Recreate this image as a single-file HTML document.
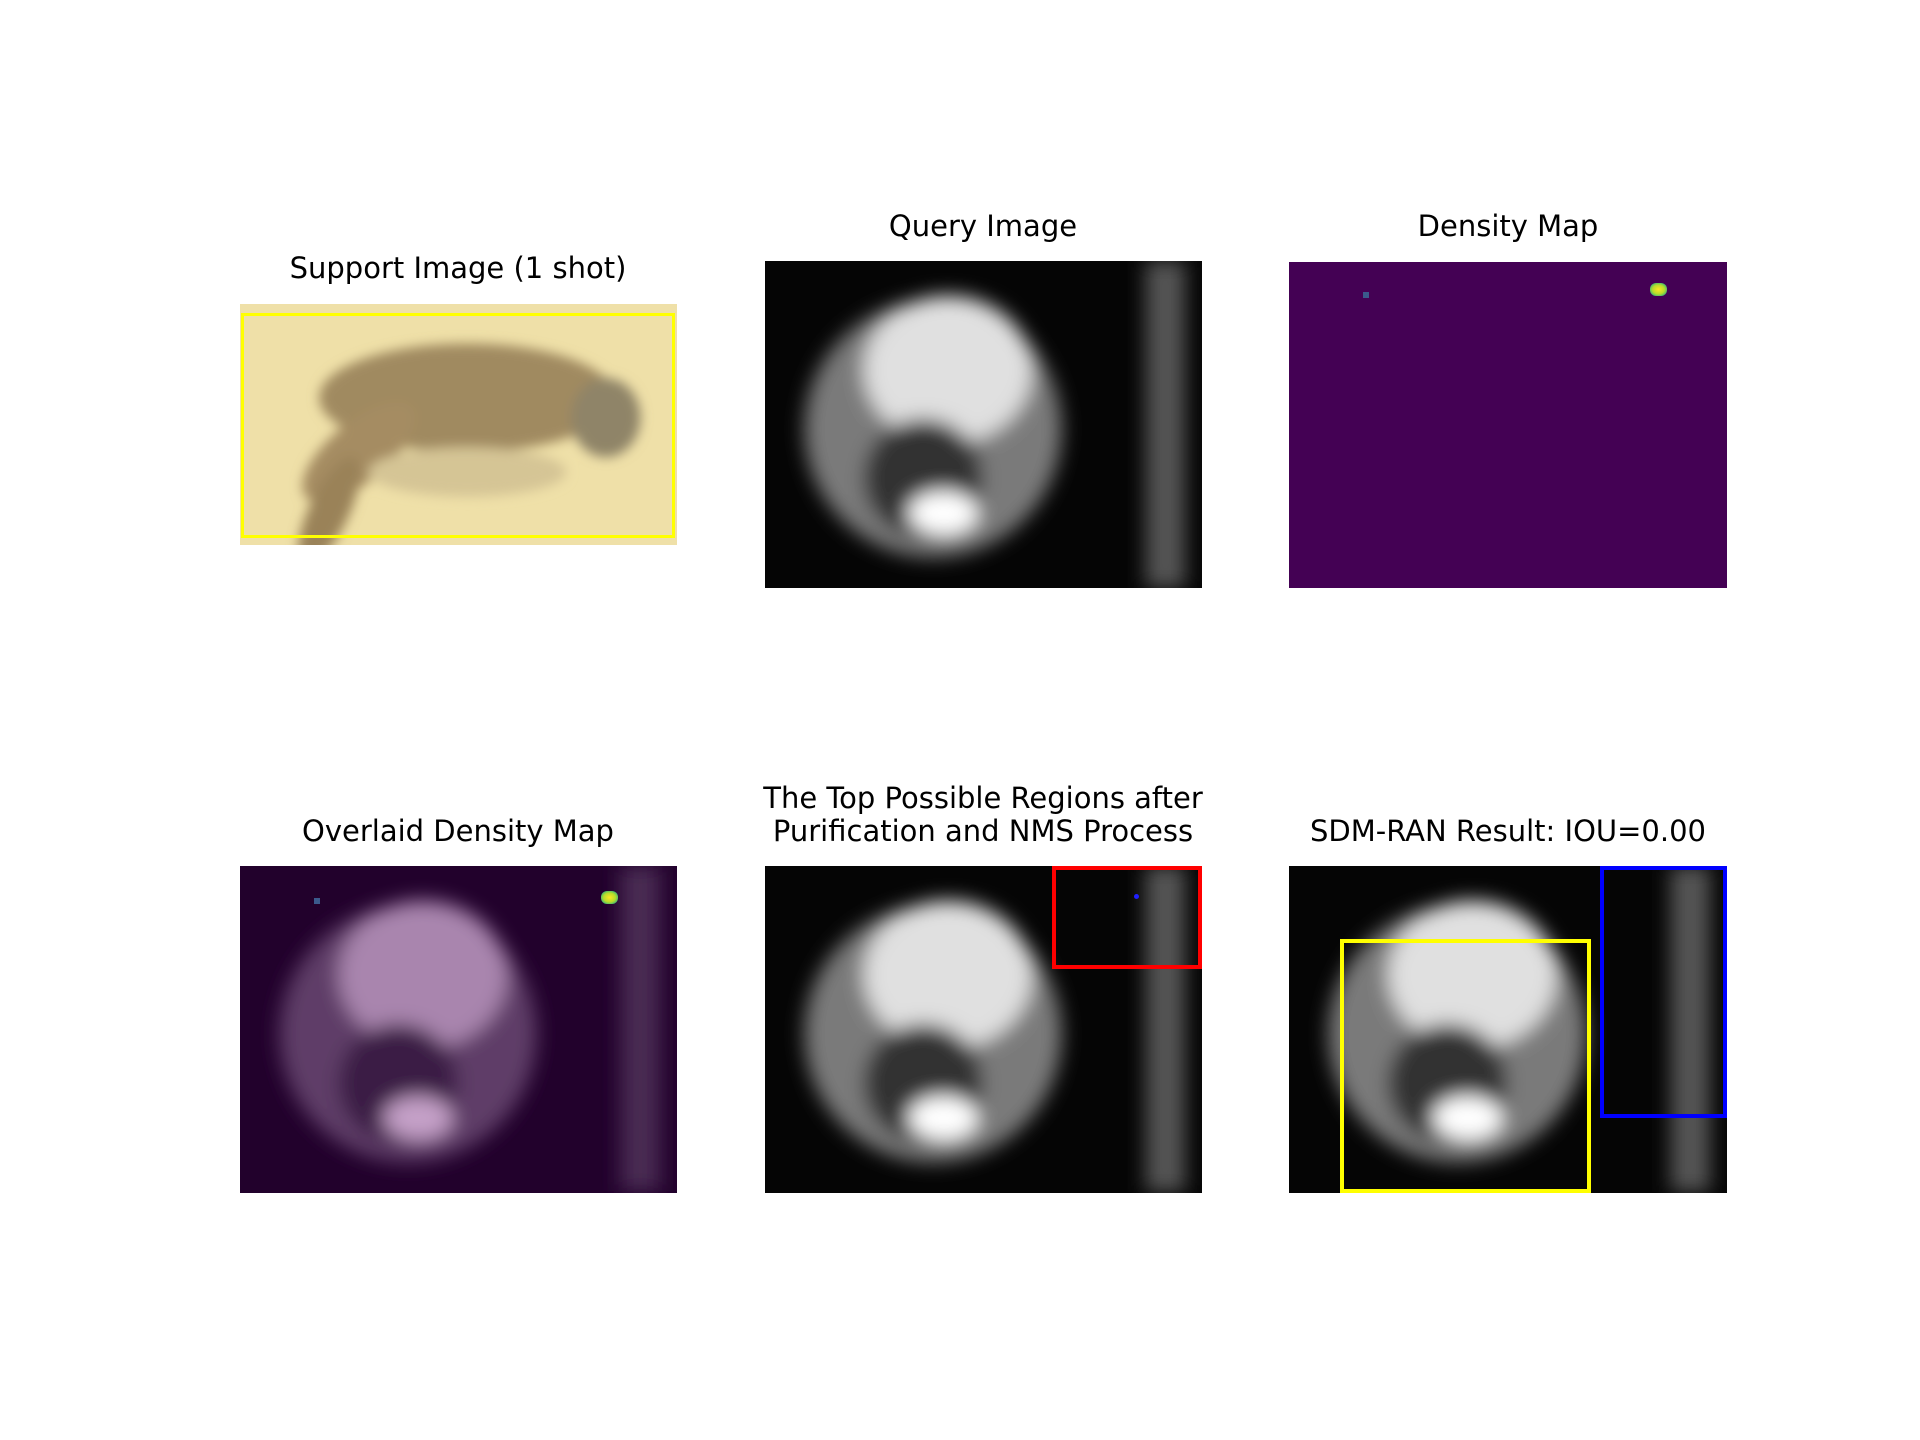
<!DOCTYPE html>
<html><head><meta charset="utf-8">
<style>
body{margin:0;width:1920px;height:1440px;background:#fff;position:relative;overflow:hidden;font-family:"DejaVu Sans","Liberation Sans",sans-serif;}
.t{position:absolute;font-size:29px;color:#000;text-align:center;line-height:33px;white-space:nowrap;transform:translateX(-50%);}
.p{position:absolute;overflow:hidden;}
.p svg{position:absolute;left:0;top:0;width:100%;height:100%;}
.box{position:absolute;box-sizing:border-box;border:4px solid;}
</style></head><body>

<div class="t" style="left:458px;top:252px">Support Image (1 shot)</div>
<div class="t" style="left:983px;top:210px">Query Image</div>
<div class="t" style="left:1508px;top:210px">Density Map</div>
<div class="t" style="left:458px;top:815px">Overlaid Density Map</div>
<div class="t" style="left:983px;top:782px">The Top Possible Regions after<br>Purification and NMS Process</div>
<div class="t" style="left:1508px;top:815px">SDM-RAN Result: IOU=0.00</div>

<svg width="0" height="0" style="position:absolute"><defs>
<filter id="b1"><feGaussianBlur stdDeviation="6"/></filter>
<filter id="b2"><feGaussianBlur stdDeviation="10"/></filter>
</defs></svg>

<!-- support image -->
<div class="p" style="left:240px;top:304px;width:437px;height:241px;background:#efe0a8">
<svg viewBox="0 0 442 244" preserveAspectRatio="none">
<g filter="url(#b1)">
<ellipse cx="230" cy="95" rx="150" ry="55" fill="#a08a60"/>
<ellipse cx="120" cy="150" rx="70" ry="30" fill="#a58c62" transform="rotate(-40 120 150)"/>
<ellipse cx="370" cy="115" rx="35" ry="40" fill="#8f8468"/>
<ellipse cx="90" cy="210" rx="20" ry="60" fill="#9a8258" transform="rotate(25 90 210)"/>
<ellipse cx="230" cy="170" rx="100" ry="25" fill="#d5c595"/>
</g></svg>
<div class="box" style="left:1px;top:9px;width:434px;height:225px;border-color:#ffff00;border-width:3px"></div>
</div>

<!-- query image -->
<div class="p" style="left:765px;top:261px;width:437px;height:327px;background:#050505">
<svg viewBox="0 0 442 331" preserveAspectRatio="none"><g filter="url(#b2)">
<rect x="385" y="0" width="40" height="331" fill="#555"/>
<ellipse cx="170" cy="170" rx="130" ry="130" fill="#7a7a7a"/>
<ellipse cx="185" cy="110" rx="85" ry="75" fill="#e0e0e0"/>
<ellipse cx="160" cy="220" rx="60" ry="60" fill="#333"/>
<ellipse cx="180" cy="255" rx="35" ry="22" fill="#ffffff"/>
</g></svg></div>

<!-- density map -->
<div class="p" style="left:1289px;top:262px;width:438px;height:326px;background:#440154">
<div style="position:absolute;left:74px;top:30px;width:6px;height:6px;background:#3b5a8c"></div>
<div style="position:absolute;left:361px;top:21px;width:17px;height:13px;border-radius:6px;background:radial-gradient(#fde725,#b5de2b 50%,#35b779 80%,#440154)"></div>
</div>

<!-- overlaid -->
<div class="p" style="left:240px;top:866px;width:437px;height:327px;background:#22012c">
<svg viewBox="0 0 442 331" preserveAspectRatio="none"><g filter="url(#b2)">
<rect x="385" y="0" width="40" height="329" fill="#4a2a52"/>
<ellipse cx="170" cy="170" rx="130" ry="130" fill="#5e3c68"/>
<ellipse cx="185" cy="110" rx="85" ry="75" fill="#a985ae"/>
<ellipse cx="160" cy="220" rx="60" ry="60" fill="#3a1e44"/>
<ellipse cx="180" cy="255" rx="35" ry="22" fill="#c5a0c8"/>
</g></svg>
<div style="position:absolute;left:74px;top:32px;width:6px;height:6px;background:#3b5a8c"></div>
<div style="position:absolute;left:361px;top:25px;width:17px;height:13px;border-radius:6px;background:radial-gradient(#fde725,#b5de2b 50%,#35b779 80%,#22012c)"></div>
</div>

<!-- top regions -->
<div class="p" style="left:765px;top:866px;width:437px;height:327px;background:#050505">
<svg viewBox="0 0 442 331" preserveAspectRatio="none"><g filter="url(#b2)">
<rect x="385" y="0" width="40" height="330" fill="#555"/>
<ellipse cx="170" cy="170" rx="130" ry="130" fill="#7a7a7a"/>
<ellipse cx="185" cy="110" rx="85" ry="75" fill="#e0e0e0"/>
<ellipse cx="160" cy="220" rx="60" ry="60" fill="#333"/>
<ellipse cx="180" cy="255" rx="35" ry="22" fill="#ffffff"/>
</g></svg>
<div class="box" style="left:287px;top:0;width:150px;height:103px;border-color:#ff0000"></div>
<div style="position:absolute;left:369px;top:28px;width:5px;height:5px;background:#2020ff;border-radius:50%"></div>
</div>

<!-- result -->
<div class="p" style="left:1289px;top:866px;width:438px;height:327px;background:#050505">
<svg viewBox="0 0 442 331" preserveAspectRatio="none"><g filter="url(#b2)">
<rect x="385" y="0" width="40" height="330" fill="#555"/>
<ellipse cx="170" cy="170" rx="130" ry="130" fill="#7a7a7a"/>
<ellipse cx="185" cy="110" rx="85" ry="75" fill="#e0e0e0"/>
<ellipse cx="160" cy="220" rx="60" ry="60" fill="#333"/>
<ellipse cx="180" cy="255" rx="35" ry="22" fill="#ffffff"/>
</g></svg>
<div class="box" style="left:51px;top:73px;width:251px;height:254px;border-color:#ffff00"></div>
<div class="box" style="left:311px;top:0;width:127px;height:252px;border-color:#0000ff"></div>
</div>

</body></html>
